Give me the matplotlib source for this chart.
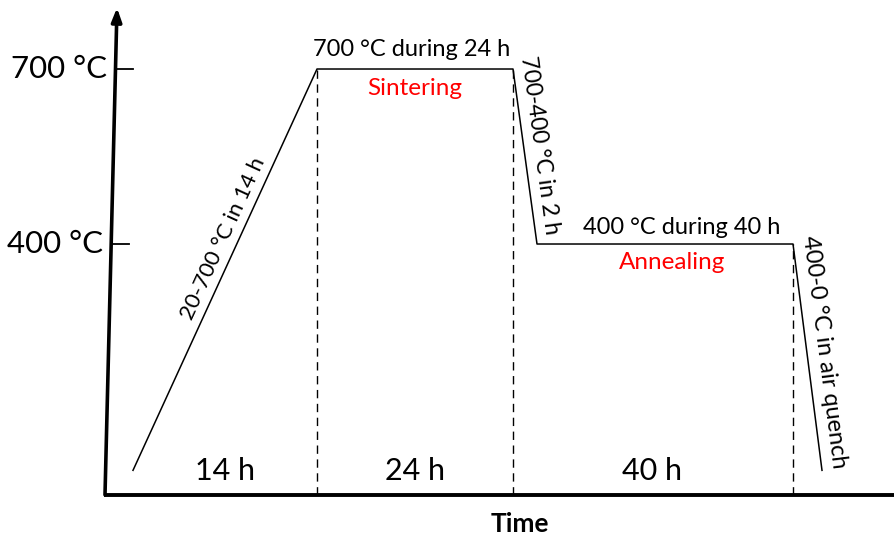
import matplotlib
matplotlib.use("Agg")
import matplotlib.pyplot as plt
import numpy as np

plt.rcParams['font.family'] = ['Lato', 'DejaVu Sans']

# Heat-treatment schedule (schematic time axis, temperature in °C)
profile_time = [133, 317, 513, 537, 793, 822]
profile_temp = [12, 700, 700, 400, 400, 12]

# Stage boundaries drawn as dashed guides
stage_bounds = [317, 513, 793]
stage_tops = [700, 700, 400]

# Duration labels under each stage
durations = ["14 h", "24 h", "40 h"]
duration_pos = [225, 415, 652]

# Temperature marks on the vertical axis
temp_ticks = [700, 400]
temp_labels = ["700 °C", "400 °C"]

# Axis geometry (schematic)
axis_bottom = -30
axis_top = 805
axis_x0, axis_x1 = 105, 117
xmax = 894


def px_to_temp(y_px):
    """Convert a vertical figure position (pixels from top) to °C."""
    return 400 - (y_px - 244) * 300 / 175


fig = plt.figure(figsize=(8.94, 5.39), dpi=100)
ax = fig.add_axes([0, 0, 1, 1])
ax.set_xlim(0, 894)
ax.set_ylim(-105.7, 818.3)
ax.axis('off')


def axis_x_at(t):
    frac = (t - axis_bottom) / (axis_top - axis_bottom)
    return axis_x0 + frac * (axis_x1 - axis_x0)


# Vertical axis with arrow head
ax.annotate("", xy=(axis_x1, axis_top), xytext=(axis_x0, axis_bottom),
            arrowprops=dict(arrowstyle="-|>,head_length=0.8,head_width=0.3",
                            lw=2.6, color="black", shrinkA=0, shrinkB=0))
# Horizontal axis
ax.plot([axis_x0 - 1, xmax], [axis_bottom, axis_bottom], color="black",
        lw=2.8, solid_capstyle="butt")

# Temperature ticks and labels
for t, lab in zip(temp_ticks, temp_labels):
    x0 = axis_x_at(t)
    ax.plot([x0, x0 + 18], [t, t], color="black", lw=1.3)
    ax.text(x0 - 8, t, lab, ha="right", va="center", fontsize=22.5)

# Temperature profile
ax.plot(profile_time, profile_temp, color="black", lw=1.1)

# Dashed stage boundaries
for xb, tb in zip(stage_bounds, stage_tops):
    ax.plot([xb, xb], [axis_bottom, tb], color="black", lw=1.0,
            linestyle=(0, (6, 4)))

# Duration labels
for lab, xp in zip(durations, duration_pos):
    ax.text(xp, px_to_temp(471), lab, ha="center", va="center", fontsize=22)

# Plateau annotations
ax.text(412, px_to_temp(49), "700 °C during 24 h", ha="center",
        va="center", fontsize=17)
ax.text(415, px_to_temp(88), "Sintering", ha="center", va="center",
        fontsize=17.5, color="#ff0000")
ax.text(682, px_to_temp(227), "400 °C during 40 h", ha="center",
        va="center", fontsize=17)
ax.text(672, px_to_temp(262), "Annealing", ha="center", va="center",
        fontsize=17.5, color="#ff0000")

# Ramp annotations, rotated along the segments
ax.text(223, px_to_temp(238), "20-700 °C in 14 h",
        ha="center", va="center", fontsize=16, rotation=65.4,
        rotation_mode="anchor")
ax.text(540, px_to_temp(145), "700-400 °C in 2 h",
        ha="center", va="center", fontsize=16.5, rotation=-82.2,
        rotation_mode="anchor")
ax.text(824, px_to_temp(352), "400-0 °C in air quench",
        ha="center", va="center", fontsize=17, rotation=-82.7,
        rotation_mode="anchor")

# Axis title
ax.text(520, px_to_temp(524), "Time", ha="center", va="center",
        fontsize=19, fontweight="bold")

fig.savefig("out.png", dpi=100)
